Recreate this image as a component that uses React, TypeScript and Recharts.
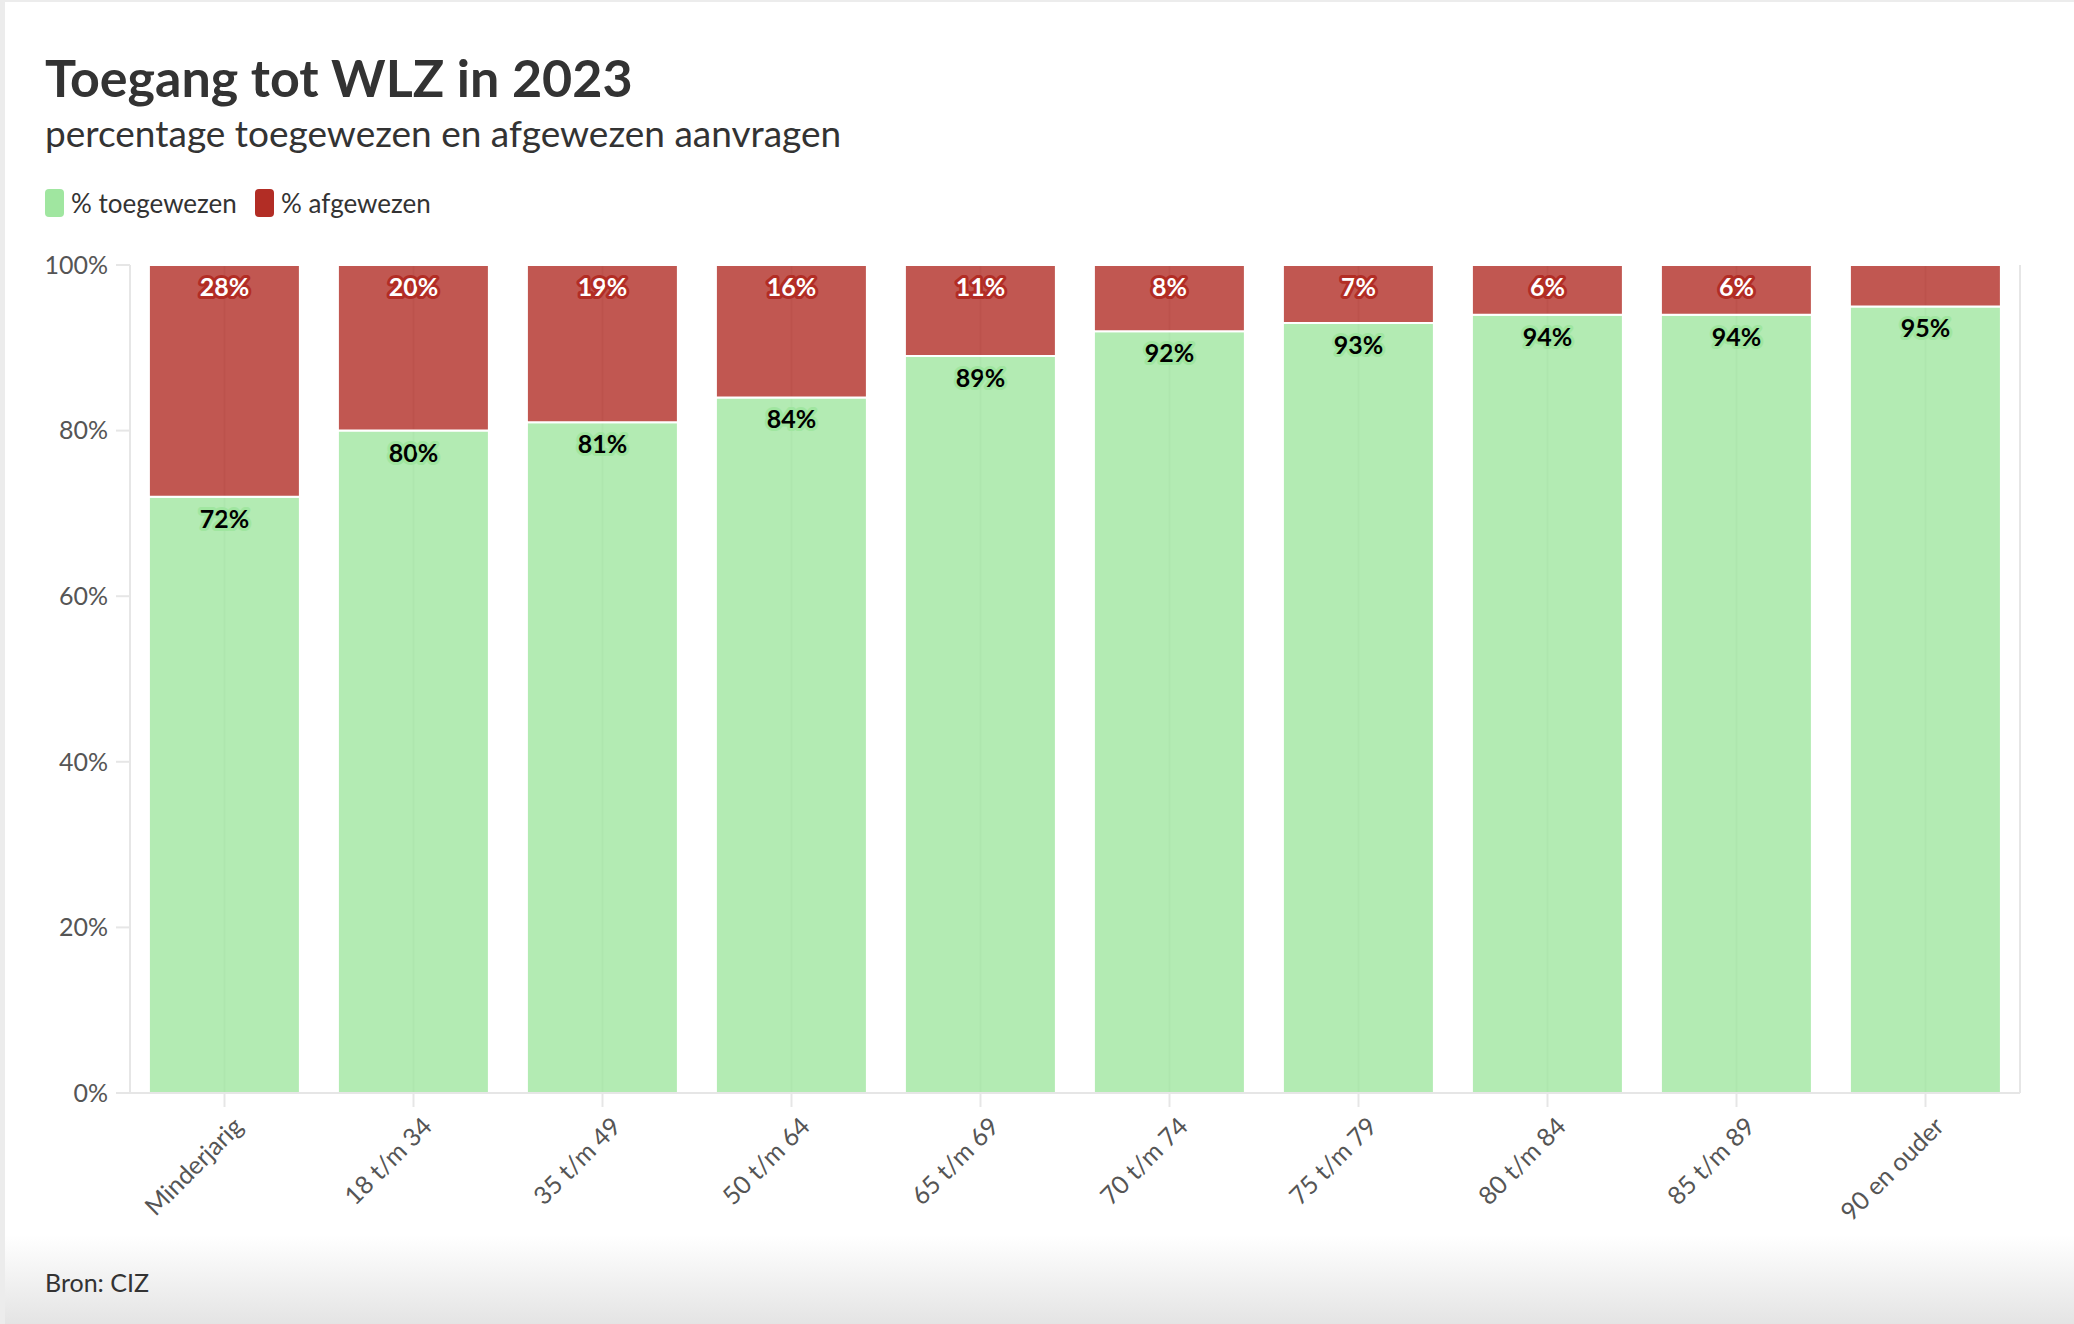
import React from "react"
import { BarChart, Bar, XAxis, YAxis, CartesianGrid, LabelList } from "recharts"

const categories = [
  "Minderjarig",
  "18 t/m 34",
  "35 t/m 49",
  "50 t/m 64",
  "65 t/m 69",
  "70 t/m 74",
  "75 t/m 79",
  "80 t/m 84",
  "85 t/m 89",
  "90 en ouder",
]
const toegewezen = [72, 80, 81, 84, 89, 92, 93, 94, 94, 95]
const afgewezen = [28, 20, 19, 16, 11, 8, 7, 6, 6, 5]
const yTicks = [0, 20, 40, 60, 80, 100]

const series = [
  { key: "toegewezen", name: "% toegewezen", color: "#a0e6a0", text: "#000000" },
  { key: "afgewezen", name: "% afgewezen", color: "#b22d25", text: "#ffffff" },
]

const FONT = "Lato, 'Noto Sans', sans-serif"

const data = categories.map((categorie, i) => ({
  categorie,
  toegewezen: toegewezen[i],
  afgewezen: afgewezen[i],
}))

// label at the top of each segment, with a halo in the series colour
const makeLabel = (halo: string, fill: string) => (props: any) => {
  const vb = props.viewBox || props
  const { x, y, width, height } = vb
  if (height < 45) return null
  return (
    <text
      x={x + width / 2}
      y={y + 21}
      textAnchor="middle"
      dominantBaseline="central"
      fontFamily={FONT}
      fontSize={25}
      fontWeight={700}
      fill={fill}
      stroke={halo}
      strokeWidth={6}
      strokeLinejoin="round"
      paintOrder="stroke"
    >
      {props.value}%
    </text>
  )
}

const CategoryTick = ({ x, y, payload }: any) => {
  const px = x + 20
  const py = y + 19
  return (
    <text
      x={px}
      y={py}
      transform={`rotate(-45, ${px}, ${py})`}
      textAnchor="end"
      fontFamily={FONT}
      fontSize={25}
      fill="#555555"
    >
      {payload.value}
    </text>
  )
}

export default function App() {
  return (
    <div
      style={{
        position: "absolute",
        left: 0,
        top: 0,
        width: 2074,
        height: 1324,
        overflow: "hidden",
        background: "linear-gradient(to bottom, #ffffff 0px, #ffffff 1235px, #e4e4e4 1324px)",
        fontFamily: FONT,
      }}
    >
      <div style={{ position: "absolute", left: 0, top: 0, width: 5, height: 1324, background: "#ececec" }} />
      <div style={{ position: "absolute", left: 0, top: 0, width: 2074, height: 2, background: "#ececec" }} />

      <div style={{ position: "absolute", left: 0, top: 0 }}>
        <BarChart
          width={2074}
          height={1324}
          data={data}
          margin={{ top: 265, right: 54, left: 0, bottom: 0 }}
          barCategoryGap="10%"
        >
          <CartesianGrid horizontal={false} stroke="#e6e6e6" strokeWidth={2} />
          <XAxis
            dataKey="categorie"
            interval={0}
            height={231}
            tickSize={14}
            tickLine={{ stroke: "#e6e6e6", strokeWidth: 2 }}
            axisLine={{ stroke: "#e6e6e6", strokeWidth: 2 }}
            tick={<CategoryTick />}
          />
          <YAxis
            width={130}
            domain={[0, 100]}
            ticks={yTicks}
            tickFormatter={(v) => `${v}%`}
            tickSize={14}
            tickMargin={8}
            tickLine={{ stroke: "#e6e6e6", strokeWidth: 2 }}
            axisLine={{ stroke: "#e6e6e6", strokeWidth: 2 }}
            tick={{ fill: "#555555", fontSize: 25, fontFamily: FONT }}
          />
          {series.map((s) => (
            <Bar
              key={s.key}
              dataKey={s.key}
              name={s.name}
              stackId="a"
              fill={s.color}
              fillOpacity={0.8}
              stroke="#ffffff"
              strokeWidth={2}
              isAnimationActive={false}
            >
              <LabelList dataKey={s.key} content={makeLabel(s.color, s.text)} />
            </Bar>
          ))}
        </BarChart>
      </div>

      <svg
        width={2074}
        height={1324}
        style={{ position: "absolute", left: 0, top: 0, pointerEvents: "none" }}
      >
        <text x={45} y={97} fontFamily={FONT} fontSize={52} fontWeight={700} fill="#333333">
          Toegang tot WLZ in 2023
        </text>
        <text x={45} y={147} fontFamily={FONT} fontSize={37} fill="#333333">
          percentage toegewezen en afgewezen aanvragen
        </text>
        {series.map((s, i) => {
          const lx = i === 0 ? 45 : 255
          return (
            <g key={s.key}>
              <rect x={lx} y={189} width={19} height={28} rx={4} fill={s.color} />
              <text x={lx + 26} y={213} fontFamily={FONT} fontSize={26} fill="#333333">
                {s.name}
              </text>
            </g>
          )
        })}
        <text x={45} y={1292} fontFamily={FONT} fontSize={25} fill="#333333">
          Bron: CIZ
        </text>
      </svg>
    </div>
  )
}
